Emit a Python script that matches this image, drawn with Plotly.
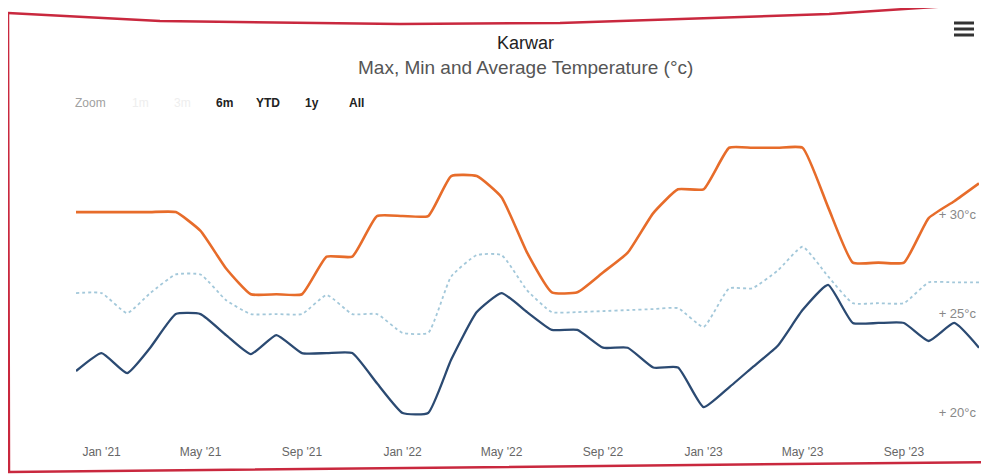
import plotly.graph_objects as go
import pandas as pd

# ---------------- data (monthly) ----------------
months = pd.date_range("2020-12-01", "2023-12-01", freq="MS").strftime("%Y-%m-%d").tolist()

max_temp = [30.45, 30.45, 30.45, 30.45, 30.45, 29.5, 27.6, 26.3, 26.3, 26.3, 28.2, 28.2,
            30.25, 30.25, 30.25, 32.27, 32.27, 31.2, 28.4, 26.4, 26.4, 27.4, 28.4, 30.4,
            31.6, 31.6, 33.7, 33.7, 33.7, 33.7, 30.7, 27.9, 27.9, 27.9, 30.15, 31.0, 31.9]

avg_temp = [26.36, 26.36, 25.35, 26.36, 27.3, 27.3, 26.0, 25.3, 25.3, 25.3, 26.26, 25.3,
            25.3, 24.35, 24.35, 27.2, 28.28, 28.28, 26.5, 25.4, 25.4, 25.45, 25.5, 25.55,
            25.6, 24.65, 26.6, 26.6, 27.5, 28.7, 27.2, 25.85, 25.85, 25.85, 26.9, 26.9, 26.9]

min_temp = [22.42, 23.33, 22.32, 23.6, 25.3, 25.3, 24.24, 23.28, 24.24, 23.33, 23.33, 23.33,
            21.8, 20.3, 20.3, 23.0, 25.4, 26.36, 25.4, 24.5, 24.5, 23.6, 23.6, 22.6,
            22.6, 20.6, 21.6, 22.6, 23.7, 25.5, 26.77, 24.85, 24.85, 24.85, 23.94, 24.85, 23.6]

y_ticks = [20, 25, 30]
y_tick_labels = ["+ 20°c", "+ 25°c", "+ 30°c"]

title_text = "Karwar"
subtitle_text = "Max, Min and Average Temperature (°c)"
range_buttons = ["6m", "YTD", "1y", "All"]
faded_buttons = ["1m", "3m"]

# ---------------- layout geometry ----------------
# the page body has an 8px margin, so the figure is sized to end at the window edge
OFF = 8
W, H = 989 - OFF, 475 - OFF
ML, MR, MT, MB = 68, 10, 122, 45
PW, PH = W - ML - MR, H - MT - MB


def px(x):
    """window pixel x -> paper fraction"""
    return (x - OFF - ML) / PW


def py(y):
    """window pixel y -> paper fraction"""
    return (H - MB - (y - OFF)) / PH


FONT = "Liberation Sans, Arial, sans-serif"
SMOOTH = 0.45

fig = go.Figure()

fig.add_trace(go.Scatter(
    x=months, y=max_temp, name="Max", mode="lines",
    line=dict(color="#e76c2a", width=2.6, shape="spline", smoothing=SMOOTH),
))
fig.add_trace(go.Scatter(
    x=months, y=avg_temp, name="Average", mode="lines",
    line=dict(color="#a3c8da", width=1.8, dash="3px,3px", shape="spline", smoothing=SMOOTH),
))
fig.add_trace(go.Scatter(
    x=months, y=min_temp, name="Min", mode="lines",
    line=dict(color="#2b4a72", width=2.3, shape="spline", smoothing=SMOOTH),
))


def label(text, x, y, size, color, family=FONT):
    return dict(text=text, x=px(x), y=py(y), xref="paper", yref="paper",
                xanchor="center", yanchor="middle", showarrow=False,
                font=dict(family=family, size=size, color=color))


annotations = [
    label(title_text, 525, 43, 18, "#222222"),
    label(subtitle_text, 525, 68, 19, "#555555"),
    label("Zoom", 90, 103, 12, "#a0a0a0"),
]
for lbl, xc in zip(faded_buttons, [140, 182]):
    annotations.append(label(lbl, xc, 103, 12, "#eeeeee"))
for lbl, xc in zip(range_buttons, [224, 268, 312, 356]):
    annotations.append(label("<b>" + lbl + "</b>", xc, 103, 12, "#222222"))


def path(points):
    return "M " + " L ".join("{:.4f},{:.4f}".format(px(a), py(b)) for a, b in points)


border_top = [(8, 13), (160, 21), (400, 24), (560, 23), (829, 14), (995, 3)]
border_side = [(8, 13), (9, 472), (995, 462)]

shapes = [
    dict(type="path", path=path(border_top), xref="paper", yref="paper",
         line=dict(color="#c9283e", width=2.5)),
    dict(type="path", path=path(border_side), xref="paper", yref="paper",
         line=dict(color="#c9283e", width=2.5)),
]
# hamburger menu icon
for yy in (23, 29, 35):
    shapes.append(dict(type="line", xref="paper", yref="paper",
                       x0=px(954), x1=px(974), y0=py(yy), y1=py(yy),
                       line=dict(color="#333333", width=3)))

fig.update_layout(
    width=W, height=H,
    margin=dict(l=ML, r=MR, t=MT, b=MB),
    paper_bgcolor="white", plot_bgcolor="white",
    showlegend=False,
    annotations=annotations,
    shapes=shapes,
    font=dict(family=FONT),
    xaxis=dict(
        type="date",
        range=["2020-12-01", "2023-12-01"],
        tick0="2021-01-01", dtick="M4", tickformat="%b '%y",
        showgrid=False, zeroline=False, showline=False,
        ticks="outside", ticklen=11, tickcolor="rgba(0,0,0,0)",
        tickfont=dict(family=FONT, size=12, color="#666666"),
        fixedrange=True,
    ),
    yaxis=dict(
        range=[30 - (430 - 221) / 19.8, 30 + (221 - 130) / 19.8],
        side="right",
        tickvals=y_ticks, ticktext=y_tick_labels,
        ticklabelposition="inside top",
        ticklabelshift=3,
        showgrid=False, zeroline=False, showline=False,
        tickfont=dict(family=FONT, size=13, color="#888888"),
        fixedrange=True,
    ),
)

fig.write_html("out.html")
